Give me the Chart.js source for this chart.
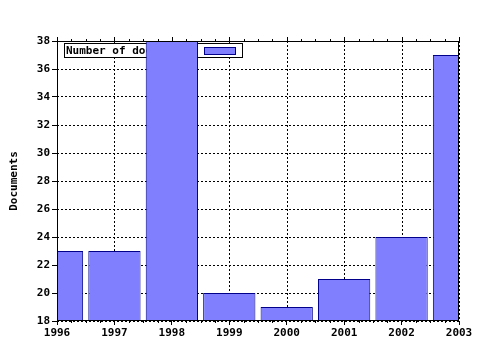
<!DOCTYPE html>
<html>
<head>
<meta charset="utf-8">
<script src="https://cdn.jsdelivr.net/npm/chart.js@4/dist/chart.umd.min.js"></script>
<style>
  html, body { margin: 0; padding: 0; background: #fff; }
  #wrap { width: 480px; height: 350px; }
</style>
</head>
<body>
<div id="wrap"><canvas id="c" width="480" height="350"></canvas></div>
<script>
const years = [1996, 1997, 1998, 1999, 2000, 2001, 2002, 2003]
const documents = [23, 23, 38, 20, 19, 21, 24, 37]
const seriesLabel = 'Number of documents'
const yTitle = 'Documents'

const FONT = 'DejaVu Sans Mono'

// vertical dashed grid, legend box (under the bars), frame and minor ticks
const framePlugin = {
  id: 'frame',
  beforeDatasetsDraw(chart) {
    const {ctx, chartArea: a, scales} = chart
    ctx.save()
    ctx.strokeStyle = '#000'
    ctx.lineWidth = 1
    ctx.setLineDash([2, 2])
    ctx.beginPath()
    for (const yr of years) {
      const px = Math.round(scales.x.getPixelForValue(yr)) + 0.5
      ctx.moveTo(px, a.top)
      ctx.lineTo(px, a.bottom)
    }
    ctx.stroke()
    ctx.setLineDash([])
    ctx.fillStyle = '#fff'
    ctx.fillRect(64.5, 43.5, 178, 14)
    ctx.strokeRect(64.5, 43.5, 178, 14)
    ctx.fillStyle = '#000'
    ctx.font = 'bold 11px ' + FONT
    ctx.textBaseline = 'middle'
    ctx.fillText(seriesLabel, 66, 51)
    ctx.fillStyle = '#8080ff'
    ctx.strokeStyle = '#00008b'
    ctx.fillRect(204.5, 47.5, 31, 7)
    ctx.strokeRect(204.5, 47.5, 31, 7)
    ctx.restore()
  },
  afterDraw(chart) {
    const {ctx, chartArea: a, scales} = chart
    const x = scales.x
    ctx.save()
    ctx.strokeStyle = '#000'
    ctx.lineWidth = 1
    ctx.strokeRect(Math.round(a.left) + 0.5, Math.round(a.top) + 0.5,
      Math.round(a.right - a.left) - 1, Math.round(a.bottom - a.top) - 1)
    ctx.beginPath()
    for (let i = 0; i < years.length; i++) {
      const px = Math.round(x.getPixelForValue(years[i])) + 0.5
      ctx.moveTo(px, a.top)
      ctx.lineTo(px, a.top - 4)
      if (i < years.length - 1) {
        for (let k = 1; k < 4; k++) {
          const mx = Math.round(x.getPixelForValue(years[i] + k / 4)) + 0.5
          ctx.moveTo(mx, a.top)
          ctx.lineTo(mx, a.top - 2)
          ctx.moveTo(mx, a.bottom)
          ctx.lineTo(mx, a.bottom + 2)
        }
      }
    }
    ctx.stroke()
    ctx.restore()
  }
}

new Chart(document.getElementById('c').getContext('2d'), {
  type: 'bar',
  plugins: [framePlugin],
  data: {
    datasets: [{
      label: seriesLabel,
      data: years.map((y, i) => ({x: y, y: documents[i]})),
      backgroundColor: '#8080ff',
      borderColor: '#00008b',
      borderWidth: 1,
      borderSkipped: false,
      barPercentage: 0.91,
      categoryPercentage: 1,
    }]
  },
  options: {
    responsive: false,
    animation: false,
    layout: {padding: {top: 41, right: 21, bottom: 8, left: 0}},
    plugins: {
      legend: {display: false},
      tooltip: {enabled: false},
    },
    scales: {
      x: {
        type: 'linear',
        min: 1996,
        max: 2003,
        offset: false,
        afterFit: (s) => { s.height = 21 },
        ticks: {
          stepSize: 1,
          color: '#000',
          font: {family: FONT, size: 11, weight: 'bold'},
          maxRotation: 0,
          padding: 2,
          callback: (v) => String(v),
        },
        grid: {
          offset: false,
          drawOnChartArea: false,
          color: '#000',
          tickLength: 4,
        },
        border: {display: false},
      },
      y: {
        min: 18,
        max: 38,
        afterFit: (s) => { s.width = 57 },
        ticks: {
          stepSize: 2,
          color: '#000',
          font: {family: FONT, size: 11, weight: 'bold'},
          padding: 2,
        },
        title: {
          display: true,
          text: yTitle,
          color: '#000',
          font: {family: FONT, size: 11, weight: 'bold'},
          padding: {top: 8, bottom: 4},
        },
        grid: {
          color: '#000',
          tickLength: 5,
          tickColor: '#000',
          tickBorderDash: [],
        },
        border: {display: false, dash: [2, 2]},
      }
    }
  }
})
</script>
</body>
</html>
